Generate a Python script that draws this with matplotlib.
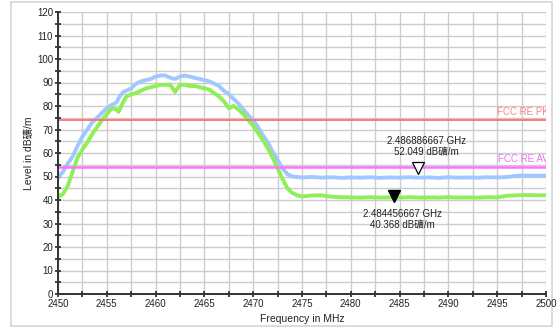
import matplotlib
matplotlib.use('Agg')
import matplotlib.pyplot as plt
import matplotlib.transforms as mtransforms
from matplotlib.patches import Rectangle

plt.rcParams['font.family'] = ['Liberation Sans', 'Noto Sans CJK SC', 'DejaVu Sans']

# =============================================================================
#   DATA
# =============================================================================

UNIT = 'dB礦/m'

# Peak trace (blue)
pk_freq = [2450, 2450.5, 2451, 2451.5, 2452, 2452.5, 2453, 2453.5, 2454, 2454.5,
           2455, 2455.5, 2456, 2456.3, 2456.7, 2457, 2457.5, 2458, 2458.5, 2459,
           2459.5, 2460, 2460.5, 2461, 2461.5, 2462, 2462.5, 2463, 2463.5, 2464,
           2464.5, 2465, 2465.5, 2466, 2466.5, 2467, 2467.5, 2468, 2468.5, 2469,
           2469.5, 2470, 2470.5, 2471, 2471.5, 2472, 2472.5, 2473, 2473.5, 2474,
           2475, 2476, 2477, 2478, 2479, 2480, 2481, 2482, 2483, 2484, 2485,
           2486, 2487, 2488, 2489, 2490, 2491, 2492, 2493, 2494, 2495, 2496,
           2497, 2498, 2499, 2500]
pk_level = [49.5, 52, 55.5, 58.5, 63, 67, 70, 73, 75, 77,
            79, 80.5, 81.5, 84, 86, 86.5, 87.5, 89.5, 90.5, 91,
            91.5, 92.5, 93, 93, 92, 91.5, 92.5, 93, 92.5, 92,
            91.5, 91, 90.5, 89.5, 88.5, 86.5, 85, 83, 81, 78.5,
            76, 74, 71, 67.5, 64.5, 60.5, 57, 53.5, 51, 50,
            49.6, 49.8, 49.5, 49.7, 49.4, 49.6, 49.5, 49.7, 49.4, 49.6, 49.5,
            49.7, 49.5, 49.6, 49.4, 49.7, 49.5, 49.6, 49.5, 49.7, 49.6, 49.8,
            50.3, 50.4, 50.3, 50.4]

# Average trace (green)
av_freq = [2450, 2450.5, 2451, 2451.5, 2452, 2452.5, 2453, 2453.5, 2454, 2454.5,
           2455, 2455.5, 2456, 2456.2, 2456.6, 2457, 2457.5, 2458, 2458.5, 2459,
           2459.5, 2460, 2460.5, 2461, 2461.5, 2462, 2462.5, 2463, 2463.5, 2464,
           2464.5, 2465, 2465.5, 2466, 2466.5, 2467, 2467.5, 2468, 2468.5, 2469,
           2469.5, 2470, 2470.5, 2471, 2471.5, 2472, 2472.5, 2473, 2473.5, 2474,
           2474.5, 2475, 2476, 2477, 2478, 2479, 2480, 2481, 2482, 2483, 2484,
           2485, 2486, 2487, 2488, 2489, 2490, 2491, 2492, 2493, 2494, 2495,
           2496, 2497, 2498, 2499, 2500]
av_level = [41.3, 42.5, 46, 52, 58, 61.5, 64.5, 68, 71, 74,
            76.5, 79, 78.5, 77.5, 81, 84, 85, 85.5, 86.5, 87.5,
            88, 88.5, 89, 89, 89, 86, 89, 89, 88.5, 88.5,
            88, 87.5, 87, 85.5, 84, 82, 79, 80, 78.5, 76.5,
            74, 71.5, 68.5, 65.5, 62, 58, 53.5, 49, 45, 43,
            42, 41.5, 41.9, 42, 41.4, 41.2, 41.1, 41, 41.2, 41, 41.1,
            41, 41.2, 41, 41.1, 41, 41.2, 41, 41.1, 41, 41.2, 41.1,
            41.8, 42, 42.1, 42, 42]

# Limit lines
limit_names = ['FCC RE PK', 'FCC RE AV']
limit_levels = [74, 54]
limit_colors = ['#ff7070', '#ff70ff']
limit_text_colors = ['#ff8080', '#f070f0']
limit_widths = [1.3, 1.8]

# Markers
mk_freq = [2486.886667, 2484.456667]
mk_level = [52.049, 40.368]
mk_label = ['2.486886667 GHz', '2.484456667 GHz']

x_ticks = list(range(2450, 2501, 5))
y_ticks = list(range(0, 121, 10))

# =============================================================================
#   PLOT
# =============================================================================

fig = plt.figure(figsize=(5.6, 3.3), dpi=100)
ax = fig.add_axes([58 / 560, 1 - 294 / 330, 488 / 560, 282 / 330])

# light frame around the whole chart (kept behind everything)
frame = Rectangle((11 / 560, 1 - 326 / 330), 541 / 560, 324 / 330,
                  transform=fig.transFigure, fill=False,
                  edgecolor='#d6d6d6', linewidth=1.2, zorder=-10)
fig.patches.append(frame)

ax.set_xlim(2450, 2500)
ax.set_ylim(0, 120)

ax.set_xticks(x_ticks)
ax.set_xticks([x + 2.5 for x in x_ticks[:-1]], minor=True)
ax.set_yticks(y_ticks)
ax.set_yticks([y + 5 for y in y_ticks[:-1]], minor=True)
ax.grid(True, which='both', color='#cccccc', linewidth=1.0)
ax.set_axisbelow(True)

for side in ['top', 'right']:
    ax.spines[side].set_visible(False)
for side in ['left', 'bottom']:
    ax.spines[side].set_color('#333333')
    ax.spines[side].set_linewidth(1.4)

ax.tick_params(which='major', direction='inout', length=5, width=1.2,
               color='#222222', labelsize=7, labelcolor='#222222', pad=1)
ax.tick_params(which='minor', direction='inout', length=4, width=1.2, color='#222222')

ax.plot(pk_freq, pk_level, color='#a0c8ff', linewidth=2.8, solid_joinstyle='round')
ax.plot(av_freq, av_level, color='#90ee58', linewidth=2.8, solid_joinstyle='round')

for name, lvl, col, tcol, lw in zip(limit_names, limit_levels, limit_colors,
                                    limit_text_colors, limit_widths):
    ax.axhline(lvl, color=col, linewidth=lw)
    t = ax.text(2500.25, lvl + 1.2, name, color=tcol, fontsize=7, ha='right', va='bottom')
    t.set_clip_on(True)

# Markers: triangles sit just above the trace point
up = mtransforms.offset_copy(ax.transData, fig=fig, x=0, y=2.4, units='points')
ax.plot(mk_freq[0], mk_level[0], marker='v', markersize=9, markerfacecolor='white',
        markeredgecolor='black', markeredgewidth=0.9, transform=up, linestyle='none')
ax.plot(mk_freq[1], mk_level[1], marker='v', markersize=9, color='black',
        transform=up, linestyle='none')

lbl0 = mtransforms.offset_copy(ax.transData, fig=fig, x=6, y=10.5, units='points')
ax.text(mk_freq[0], mk_level[0], '%s\n%.3f %s' % (mk_label[0], mk_level[0], UNIT),
        transform=lbl0, ha='center', va='bottom', fontsize=7, color='#222222',
        linespacing=1.15)
lbl1 = mtransforms.offset_copy(ax.transData, fig=fig, x=6, y=-7, units='points')
ax.text(mk_freq[1], mk_level[1], '%s\n%.3f %s' % (mk_label[1], mk_level[1], UNIT),
        transform=lbl1, ha='center', va='top', fontsize=7, color='#222222',
        linespacing=1.15)

ax.set_xlabel('Frequency in MHz', fontsize=7.5, color='#222222', labelpad=3.5)
ax.set_ylabel('Level in ' + UNIT, fontsize=7.5, color='#222222', labelpad=2)

fig.savefig('out.png', dpi=100)
